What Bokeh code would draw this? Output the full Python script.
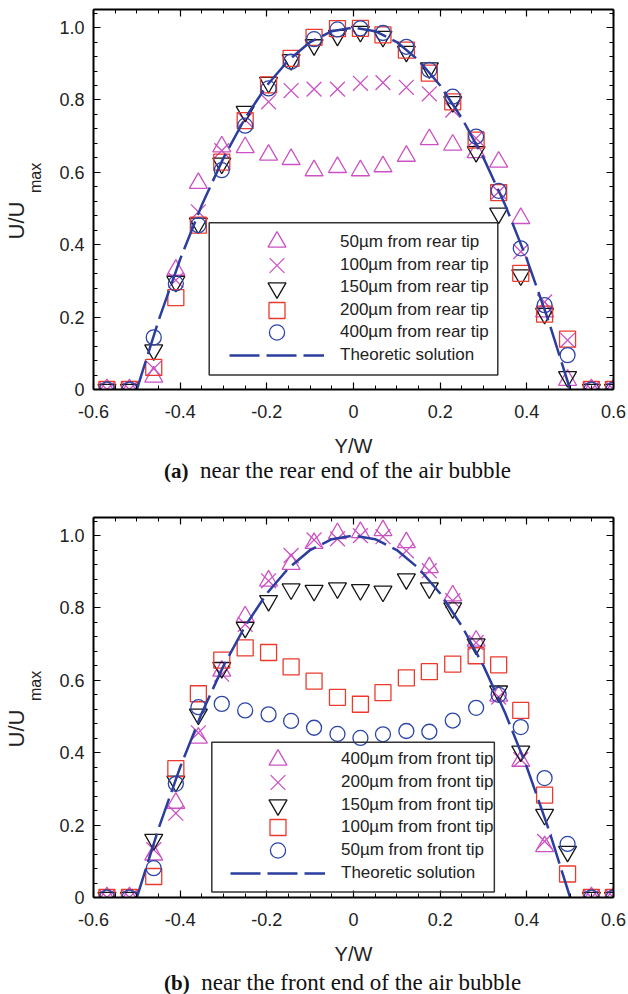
from bokeh.plotting import figure
from bokeh.models import (Range1d, FixedTicker, LinearAxis, Legend, LegendItem, Title,
                          BoxAnnotation, CustomJSTickFormatter, Div)
from bokeh.layouts import column
from bokeh.embed import file_html
from bokeh.resources import INLINE

NaN = float("nan")

# ---------------- data ----------------
# measurement stations across the channel (Y/W)
y_over_w = [-0.569, -0.517, -0.461, -0.410, -0.358, -0.304, -0.250, -0.196, -0.144, -0.091,
            -0.037, 0.016, 0.068, 0.122, 0.175, 0.229, 0.283, 0.335, 0.386, 0.441,
            0.494, 0.549, 0.600]

# (a) near the rear end of the air bubble
a_50um = [0, 0, 0.035, 0.33, 0.57, 0.671, 0.669, 0.648, 0.636, 0.605, 0.614, 0.605,
          0.616, 0.645, 0.691, 0.676, 0.655, 0.629, 0.473, 0.215, 0.026, 0, 0]
a_100um = [0, 0, 0.058, 0.302, 0.491, 0.66, 0.745, 0.795, 0.826, 0.83, 0.83, 0.846,
           0.848, 0.835, 0.817, 0.772, 0.694, 0.546, 0.381, 0.242, 0.136, 0, 0]
a_150um = [0, 0, 0.109, 0.298, 0.459, 0.625, 0.768, 0.848, 0.911, 0.952, 0.978, 0.989,
           0.975, 0.934, 0.888, 0.795, 0.657, 0.487, 0.316, 0.21, 0.035, 0, 0]
a_200um = [0, 0, 0.061, 0.254, 0.454, 0.628, 0.743, 0.842, 0.915, 0.973, 0.997, 0.998,
           0.98, 0.938, 0.874, 0.795, 0.689, 0.544, 0.321, 0.208, 0.139, 0, 0]
a_400um = [0, 0, 0.144, 0.293, 0.454, 0.606, 0.729, 0.832, 0.906, 0.968, 0.995, 0.998,
           0.985, 0.947, 0.883, 0.809, 0.699, 0.549, 0.39, 0.233, 0.095, 0, 0]

# (b) near the front end of the air bubble
b_400um = [0, 0, 0.118, 0.261, 0.441, 0.626, 0.776, 0.875, 0.921, 0.979, 1.006, 1.009,
           1.014, 0.981, 0.912, 0.834, 0.709, 0.557, 0.377, 0.141, NaN, 0, 0]
b_200um = [0, 0, 0.132, 0.233, 0.455, 0.617, 0.755, 0.875, 0.945, 0.988, 0.991, 1.0,
           0.997, 0.958, 0.903, 0.82, 0.704, 0.554, 0.381, 0.155, NaN, 0, 0]
b_150um = [0, 0, 0.16, 0.321, 0.506, 0.635, 0.746, 0.82, 0.852, 0.848, 0.855, 0.85,
           0.846, 0.88, 0.855, 0.8, 0.7, 0.57, 0.404, 0.229, 0.127, 0, 0]
b_100um = [0, 0, 0.058, 0.356, 0.563, 0.656, 0.69, 0.677, 0.637, 0.598, 0.553, 0.534,
           0.566, 0.607, 0.624, 0.645, 0.668, 0.643, 0.517, 0.283, 0.065, 0, 0]
b_50um = [0, 0, 0.081, 0.314, 0.526, 0.535, 0.517, 0.506, 0.488, 0.469, 0.452, 0.441,
          0.451, 0.46, 0.458, 0.489, 0.524, 0.56, 0.471, 0.33, 0.148, 0, 0]

# theoretic solution
theory_x = [-0.50, -0.45, -0.40, -0.35, -0.30, -0.25, -0.20, -0.15, -0.10, -0.05, 0.0,
            0.05, 0.10, 0.15, 0.20, 0.25, 0.30, 0.35, 0.40, 0.45, 0.50]
theory_y = [0.0, 0.19, 0.36, 0.51, 0.64, 0.75, 0.84, 0.91, 0.96, 0.99, 1.0,
            0.99, 0.96, 0.91, 0.84, 0.75, 0.64, 0.51, 0.36, 0.19, 0.0]

labels_a = ["50\u00b5m from rear tip", "100\u00b5m from rear tip", "150\u00b5m from rear tip",
            "200\u00b5m from rear tip", "400\u00b5m from rear tip", "Theoretic solution"]
labels_b = ["400\u00b5m from front tip", "200\u00b5m from front tip", "150\u00b5m from front tip",
            "100\u00b5m from front tip", "50\u00b5m from front tip", "Theoretic solution"]

x_major = [-0.6, -0.4, -0.2, 0.0, 0.2, 0.4, 0.6]
x_minor = [round(-0.6 + 0.05 * i, 2) for i in range(25)]
y_major = [0.0, 0.2, 0.4, 0.6, 0.8, 1.0]
y_minor = [round(0.04 * i, 2) for i in range(27)]

# ---------------- styles ----------------
MAGENTA = "#CC52C4"
BLACK = "#151515"
RED = "#EC3A2E"
BLUE = "#2C46A8"
LINE = "#2B3E9E"
SANS = "Liberation Sans"
SERIF = "Liberation Serif"
TXT = "#222222"

marker_styles = [
    dict(marker="triangle", size=18, line_color=MAGENTA),
    dict(marker="x", size=21, line_color=MAGENTA),
    dict(marker="inverted_triangle", size=18, line_color=BLACK),
    dict(marker="square", size=16, line_color=RED),
    dict(marker="circle", size=15, line_color=BLUE),
]

FW, FH = 520, 380

fmt = CustomJSTickFormatter(code='return tick == 0 ? "0" : tick.toFixed(1);')


def style_axis(ax, labelled):
    ax.axis_line_width = 2
    ax.axis_line_color = "black"
    ax.major_tick_in = 7
    ax.major_tick_out = 0
    ax.minor_tick_in = 4
    ax.minor_tick_out = 0
    ax.major_tick_line_width = 1.2
    ax.minor_tick_line_width = 1
    if labelled:
        ax.formatter = fmt
        ax.major_label_text_font = SANS
        ax.major_label_text_font_size = "18px"
        ax.major_label_text_color = TXT
    else:
        ax.major_label_text_font_size = "0px"
        ax.major_label_standoff = 0
        ax.major_label_text_alpha = 0


def panel(series, labels, legend_x, row0, box, bottom_border):
    p = figure(x_range=Range1d(-0.6, 0.6), y_range=Range1d(0, 1.05),
               frame_width=FW, frame_height=FH,
               min_border_left=93, min_border_right=15,
               min_border_top=9, min_border_bottom=bottom_border,
               x_axis_location=None, y_axis_location=None,
               output_backend="svg", toolbar_location=None,
               background_fill_color="white", border_fill_color="white",
               outline_line_color="black", outline_line_width=1)
    p.xgrid.visible = False
    p.ygrid.visible = False

    xt = FixedTicker(ticks=x_major, minor_ticks=x_minor)
    yt = FixedTicker(ticks=y_major, minor_ticks=y_minor)
    below = LinearAxis(ticker=xt)
    style_axis(below, True)
    below.major_label_standoff = 15
    below.axis_label = "Y/W"
    below.axis_label_text_font = SANS
    below.axis_label_text_font_size = "20px"
    below.axis_label_text_font_style = "normal"
    below.axis_label_text_color = TXT
    below.axis_label_standoff = 14

    left = LinearAxis(ticker=yt)
    style_axis(left, True)
    left.major_label_standoff = 9
    # subscript of U/U_max (leading spaces lift it above the frame centre)
    left.axis_label = "\u2003\u2003\u2002\u2009max"
    left.axis_label_text_font = SANS
    left.axis_label_text_font_size = "16px"
    left.axis_label_text_font_style = "normal"
    left.axis_label_text_color = TXT
    left.axis_label_standoff = 12

    above = LinearAxis(ticker=xt)
    style_axis(above, False)
    right = LinearAxis(ticker=yt)
    style_axis(right, False)
    p.add_layout(below, "below")
    p.add_layout(left, "left")
    p.add_layout(above, "above")
    p.add_layout(right, "right")
    p.add_layout(Title(text="U/U", align="left", offset=150, standoff=-8,
                       text_font=SANS, text_font_size="22px", text_font_style="normal",
                       text_color=TXT), "left")

    renderers = []
    glyph_h = []
    for ys, st in zip(series, marker_styles):
        r = p.scatter(y_over_w, ys, fill_color=None, line_width=1.3, **st)
        renderers.append(r)
        glyph_h.append(st["size"] / 0.4)   # legend draws markers at 0.4*glyph box
    rl = p.line(theory_x, theory_y, line_color=LINE, line_width=2.5, line_dash="30 7")
    renderers.append(rl)
    glyph_h.append(38)

    # legend frame
    p.add_layout(BoxAnnotation(left=box[0], right=box[1], bottom=box[2], top=box[3],
                               fill_alpha=0, line_color="#333333", line_width=1.5,
                               line_alpha=1))
    pitch = 22.67
    for i, (lab, r, gh) in enumerate(zip(labels, renderers, glyph_h)):
        centre = row0 - i * pitch        # px above the frame bottom
        leg = Legend(items=[LegendItem(label=lab, renderers=[r])],
                     location=(legend_x, centre - gh / 2),
                     glyph_width=95, glyph_height=int(round(gh)), label_height=20,
                     spacing=0, padding=0, margin=0, label_standoff=16,
                     label_text_font=SANS, label_text_font_size="17px",
                     label_text_color=TXT,
                     border_line_alpha=0, background_fill_alpha=0)
        p.add_layout(leg)
    return p


def caption(tag, text, height, pad_top):
    html = ('<div style="font-family:\'Liberation Serif\',serif;font-size:23px;'
            'line-height:20px;color:#111;white-space:nowrap;'
            'padding-left:164px;padding-top:%dpx;">'
            '<b style="font-size:21px;">%s</b>&nbsp; %s</div>' % (pad_top, tag, text))
    return Div(text=html, width=628, height=height, margin=0)


pa = panel([a_50um, a_100um, a_150um, a_200um, a_400um], labels_a, 136, 147.3,
           (-0.333, 0.333, 0.04, 0.461), 72)
pb = panel([b_400um, b_200um, b_150um, b_100um, b_50um], labels_b, 137, 137.7,
           (-0.327, 0.325, 0.015, 0.429), 72)
cap_a = caption("(a)", "near the rear end of the air bubble", 47, 0)
cap_b = caption("(b)", "near the front end of the air bubble", 25, 4)

layout = column(pa, cap_a, pb, cap_b, spacing=0)
open("out.html", "w").write(file_html(layout, INLINE))
